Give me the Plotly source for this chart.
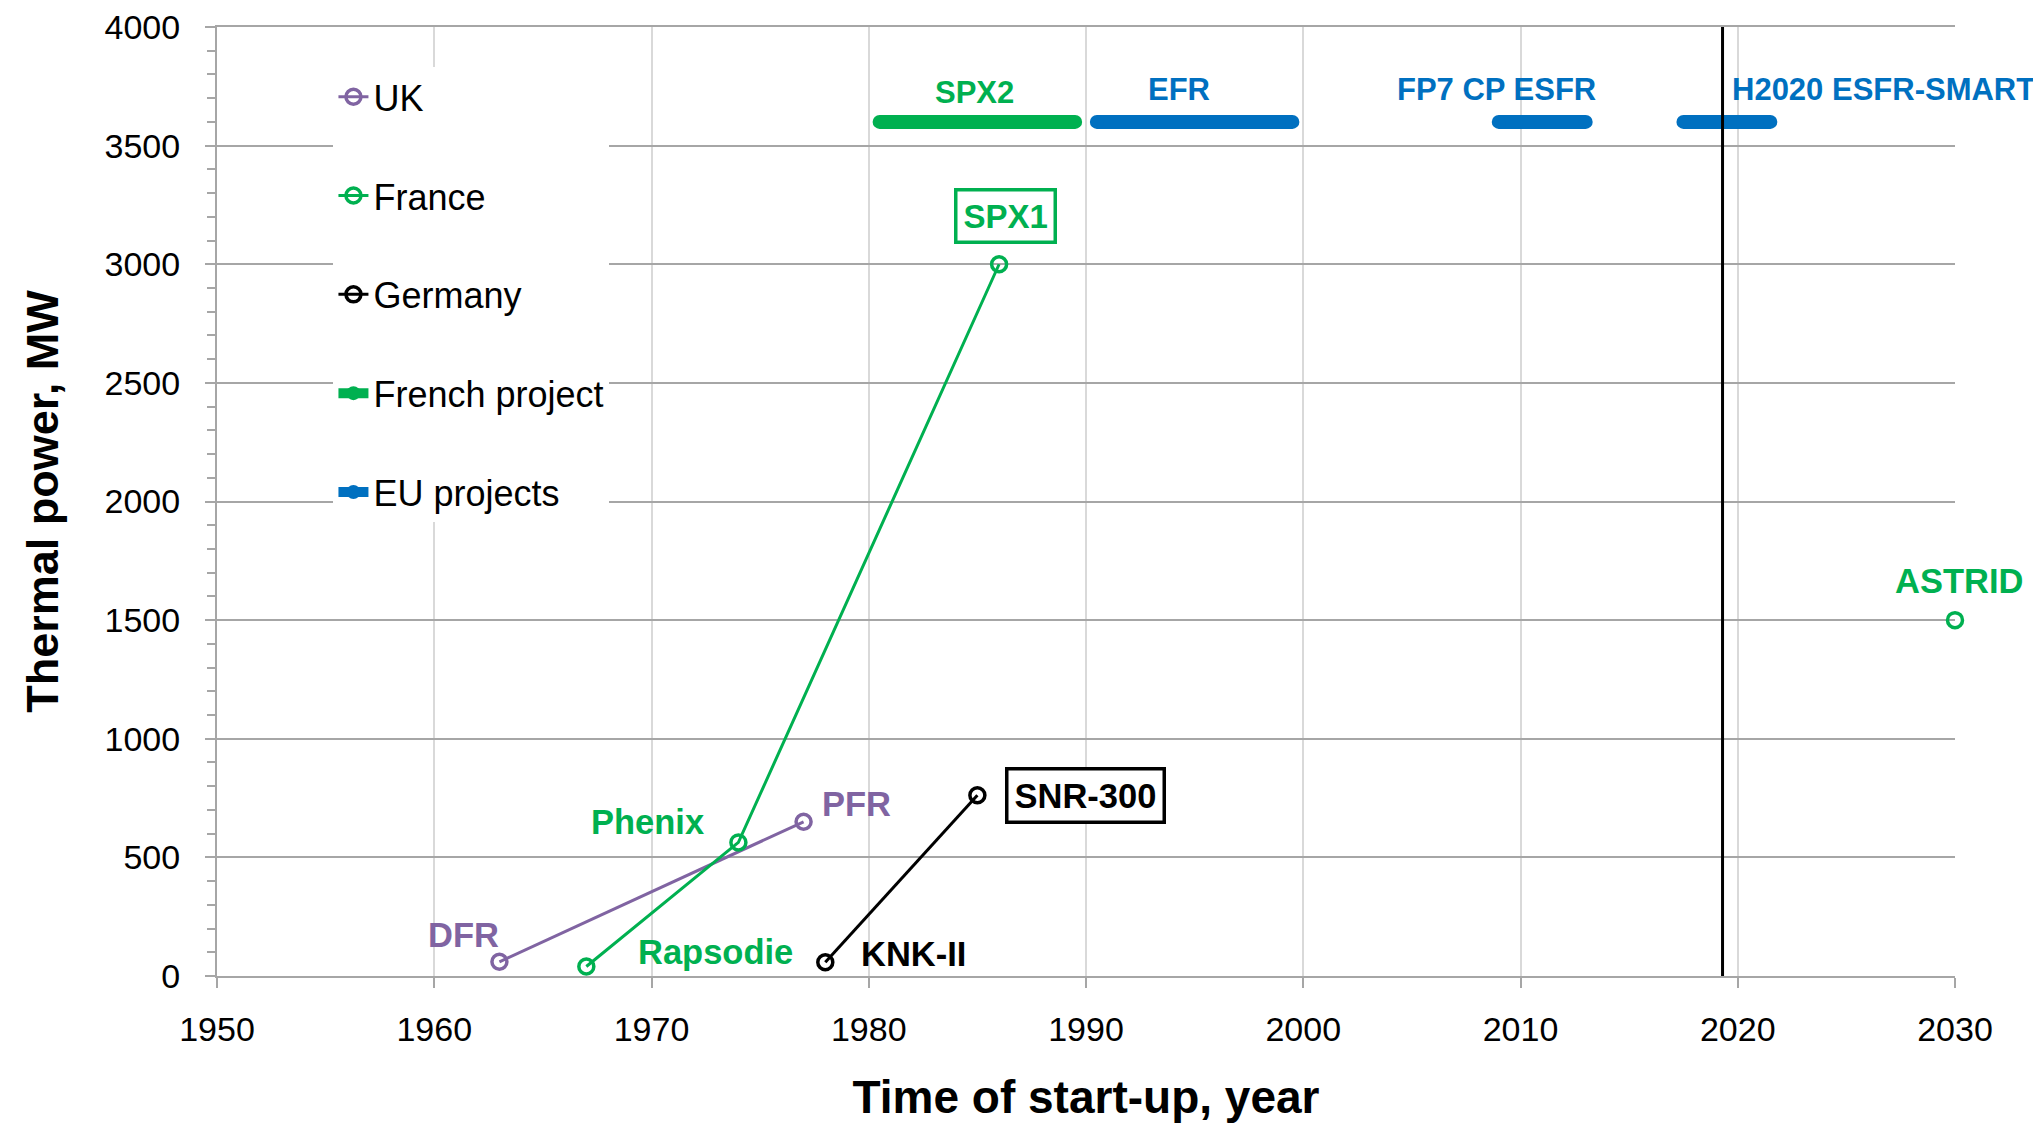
import plotly.graph_objects as go

# ---------------- data ----------------
uk_years = [1963, 1977]
uk_power = [60, 650]
uk_names = ["DFR", "PFR"]

fr_years = [1967, 1974, 1986]
fr_power = [40, 563, 3000]
fr_names = ["Rapsodie", "Phenix", "SPX1"]

astrid_year = [2030]
astrid_power = [1500]
astrid_name = ["ASTRID"]

de_years = [1978, 1985]
de_power = [58, 762]
de_names = ["KNK-II", "SNR-300"]

project_level = 3600
french_project_start = [1980.5]
french_project_end = [1989.5]
french_project_names = ["SPX2"]

eu_project_start = [1990.5, 2009.0, 2017.5]
eu_project_end = [1999.5, 2013.0, 2021.5]
eu_project_names = ["EFR", "FP7 CP ESFR", "H2020 ESFR-SMART"]

now_year = 2019.3

x_ticks = [1950, 1960, 1970, 1980, 1990, 2000, 2010, 2020, 2030]
y_ticks = [0, 500, 1000, 1500, 2000, 2500, 3000, 3500, 4000]

# ---------------- styles ----------------
PURPLE = "#8064A2"
GREEN = "#00B050"
BLUE = "#0070C0"
BLACK = "#000000"
FONT = "Liberation Sans, Arial, sans-serif"

def fnt(size, color="black", bold=False):
    return dict(family=FONT, size=size, color=color, weight="bold" if bold else "normal")

marker_style = lambda c: dict(symbol="circle-open", size=15, color=c, line=dict(width=3.5, color=c))

def segs(starts, ends, level):
    xs, ys = [], []
    for s, e in zip(starts, ends):
        xs += [s, e, None]
        ys += [level, level, None]
    return xs, ys

fig = go.Figure()

fig.add_trace(go.Scatter(x=uk_years, y=uk_power, mode="lines+markers", name="UK",
                         legendgroup="uk", line=dict(color=PURPLE, width=3),
                         marker=marker_style(PURPLE), cliponaxis=False))
fig.add_trace(go.Scatter(x=fr_years + [None] + astrid_year, y=fr_power + [None] + astrid_power,
                         mode="lines+markers", name="France", legendgroup="fr",
                         line=dict(color=GREEN, width=3), marker=marker_style(GREEN),
                         connectgaps=False, cliponaxis=False))
fig.add_trace(go.Scatter(x=de_years, y=de_power, mode="lines+markers", name="Germany",
                         legendgroup="de", line=dict(color=BLACK, width=3),
                         marker=marker_style(BLACK), cliponaxis=False))

fx, fy = segs(french_project_start, french_project_end, project_level)
fig.add_trace(go.Scatter(x=fx, y=fy, mode="lines+markers", name="French project",
                         legendgroup="fp", line=dict(color=GREEN, width=14),
                         marker=dict(symbol="circle", size=14, color=GREEN), cliponaxis=False))
ex, ey = segs(eu_project_start, eu_project_end, project_level)
fig.add_trace(go.Scatter(x=ex, y=ey, mode="lines+markers", name="EU projects",
                         legendgroup="eu", line=dict(color=BLUE, width=14),
                         marker=dict(symbol="circle", size=14, color=BLUE), cliponaxis=False))

fig.add_trace(go.Scatter(x=[now_year, now_year], y=[y_ticks[0], y_ticks[-1]], mode="lines",
                         showlegend=False, line=dict(color=BLACK, width=3), hoverinfo="skip"))

# ---------------- labels ----------------
def label(x, y, text, color, xshift, yshift, size=34.5, box=False):
    kw = {}
    if box:
        kw = dict(bordercolor=color, borderwidth=3.5, borderpad=6, bgcolor="white")
    fig.add_annotation(x=x, y=y, xref="x", yref="y", text=text, showarrow=False,
                       xshift=xshift, yshift=yshift, font=fnt(size, color, True), **kw)

uk_offsets = [(-36, 27), (53, 18)]
for (x, y, n), (dx, dy) in zip(zip(uk_years, uk_power, uk_names), uk_offsets):
    label(x, y, n, PURPLE, dx, dy)

fr_offsets = [(129, 15), (-91, 20), (6, 48)]
for (x, y, n), (dx, dy) in zip(zip(fr_years, fr_power, fr_names), fr_offsets):
    label(x, y, n, GREEN, dx, dy, size=(33 if n == "SPX1" else 34.5), box=(n == "SPX1"))

label(astrid_year[0], astrid_power[0], astrid_name[0], GREEN, 4, 39)

de_offsets = [(88, 8), (108, 0)]
for (x, y, n), (dx, dy) in zip(zip(de_years, de_power, de_names), de_offsets):
    label(x, y, n, BLACK, dx, dy, box=(n == "SNR-300"))

for s, e, n in zip(french_project_start, french_project_end, french_project_names):
    label((s + e) / 2, project_level, n, GREEN, -3, 29, size=31)

eu_offsets = [(-16, 32), (-46, 32), (157, 32)]
for (s, e, n), (dx, dy) in zip(zip(eu_project_start, eu_project_end, eu_project_names), eu_offsets):
    label((s + e) / 2, project_level, n, BLUE, dx, dy, size=31)

# ---------------- layout ----------------
fig.update_layout(
    width=2041, height=1123,
    margin=dict(l=209, r=94, t=19, b=155, autoexpand=False),
    paper_bgcolor="white", plot_bgcolor="white",
    font=fnt(34),
    showlegend=True,
    legend=dict(x=0.067, y=0.958, xanchor="left", yanchor="top", bgcolor="white",
                font=fnt(36), tracegroupgap=49, itemwidth=30),
    xaxis=dict(range=[1950, 2030], tickvals=x_ticks, ticks="outside", ticklen=10,
               tickwidth=2, tickcolor="#A6A6A6", ticklabelstandoff=12, automargin=False,
               ticklabeloverflow="allow", mirror=True,
               showgrid=True, gridcolor="#D9D9D9", gridwidth=1.5,
               showline=True, linecolor="#A6A6A6", linewidth=2, zeroline=False,
               tickfont=fnt(34),
               title=dict(text="Time of start-up, year", font=fnt(46, bold=True), standoff=34)),
    yaxis=dict(range=[0, 4000], tickvals=y_ticks, ticks="outside", ticklen=10,
               tickwidth=2, tickcolor="#A6A6A6", ticklabelstandoff=18, automargin=False,
               ticklabeloverflow="allow",
               showgrid=True, gridcolor="#A6A6A6", gridwidth=2,
               showline=True, linecolor="#A6A6A6", linewidth=2, zeroline=False,
               minor=dict(dtick=100, ticks="outside", ticklen=8, tickcolor="#A6A6A6",
                          tickwidth=1.5, showgrid=False),
               tickfont=fnt(34),
               title=dict(text="Thermal power, MW", font=fnt(45, bold=True), standoff=32)),
)

fig.write_html("out.html")
